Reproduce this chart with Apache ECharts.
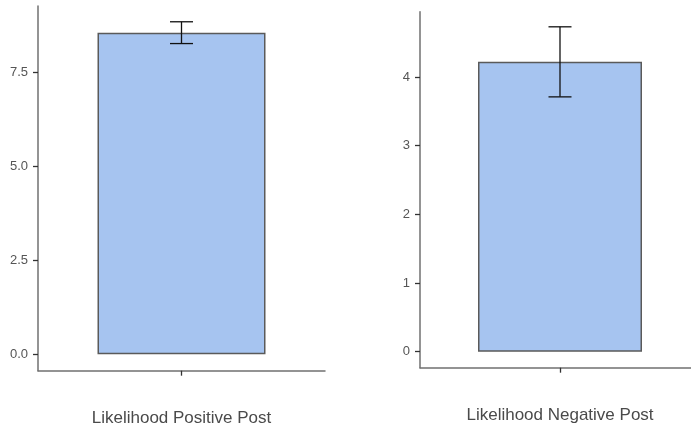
<!DOCTYPE html>
<html>
<head>
<meta charset="utf-8">
<script src="https://cdn.jsdelivr.net/npm/echarts@6/dist/echarts.min.js"></script>
<style>html,body{margin:0;padding:0;background:#fff;}#c{width:691px;height:436px;}</style>
</head>
<body>
<div id="c"></div>
<script>
var categoriesLeft = ['Likelihood Positive Post'];
var categoriesRight = ['Likelihood Negative Post'];
var meanLeft = [8.56];
var errLeft = [0.29];
var meanRight = [4.22];
var errRight = [0.51];
var ticksLeft = [0, 2.5, 5, 7.5];
var ticksRight = [0, 1, 2, 3, 4];

var chart = echarts.init(document.getElementById('c'), null, {renderer: 'canvas'});

function barData(means) {
  return means.map(function (m, i) { return [i, m]; });
}
function errData(means, errs) {
  return means.map(function (m, i) { return [i, m - errs[i], m + errs[i]]; });
}
function errRender(params, api) {
  var x = api.value(0);
  var lo = api.coord([x, api.value(1)]);
  var hi = api.coord([x, api.value(2)]);
  var hw = 11.5;
  var st = {stroke: '#111', lineWidth: 1.3};
  return {
    type: 'group',
    children: [
      {type: 'line', shape: {x1: hi[0], y1: hi[1], x2: lo[0], y2: lo[1]}, style: st},
      {type: 'line', shape: {x1: hi[0] - hw, y1: hi[1], x2: hi[0] + hw, y2: hi[1]}, style: st},
      {type: 'line', shape: {x1: lo[0] - hw, y1: lo[1], x2: lo[0] + hw, y2: lo[1]}, style: st}
    ]
  };
}

var axisLineStyle = {color: '#707070', width: 1.5};
var tickStyle = {color: '#333', width: 1.3};
var yLabel = {color: '#555', fontSize: 13, margin: 10, fontFamily: 'Liberation Sans, Arial, sans-serif'};

function xAxisFor(gi, cats) {
  var idx = cats.map(function (c, i) { return i; });
  return {
    type: 'value', gridIndex: gi, min: -1, max: 1,
    splitLine: {show: false},
    axisLine: {show: true, onZero: false, lineStyle: axisLineStyle},
    axisTick: {show: true, length: 5, customValues: idx, lineStyle: tickStyle},
    axisLabel: {
      customValues: idx,
      formatter: function (v) { return cats[Math.round(v)] || ''; },
      color: '#4a4a4a', fontSize: 17, margin: 39,
      fontFamily: 'Liberation Sans, Arial, sans-serif'
    }
  };
}

chart.setOption({
  animation: false,
  grid: [
    {left: 38, top: 6, width: 287, height: 364.7, outerBoundsMode: 'none', containLabel: false},
    {left: 420, top: 11.7, width: 280, height: 356, outerBoundsMode: 'none', containLabel: false}
  ],
  xAxis: [xAxisFor(0, categoriesLeft), xAxisFor(1, categoriesRight)],
  yAxis: [
    {type: 'value', gridIndex: 0, min: -0.44, max: 9.27,
     splitLine: {show: false},
     axisLine: {show: true, onZero: false, lineStyle: axisLineStyle},
     axisTick: {show: true, length: 5, customValues: ticksLeft, lineStyle: tickStyle},
     axisLabel: Object.assign({customValues: ticksLeft, formatter: function (v) { return v.toFixed(1); }}, yLabel)},
    {type: 'value', gridIndex: 1, min: -0.233, max: 4.95,
     splitLine: {show: false},
     axisLine: {show: true, onZero: false, lineStyle: axisLineStyle},
     axisTick: {show: true, length: 5, customValues: ticksRight, lineStyle: tickStyle},
     axisLabel: Object.assign({customValues: ticksRight, formatter: function (v) { return String(v); }}, yLabel)}
  ],
  series: [
    {type: 'bar', xAxisIndex: 0, yAxisIndex: 0, data: barData(meanLeft), barWidth: 168,
     itemStyle: {color: '#a6c4f0', borderColor: '#5a5a5a', borderWidth: 1.5}},
    {type: 'custom', xAxisIndex: 0, yAxisIndex: 0, data: errData(meanLeft, errLeft),
     renderItem: errRender, z: 5},
    {type: 'bar', xAxisIndex: 1, yAxisIndex: 1, data: barData(meanRight), barWidth: 164,
     itemStyle: {color: '#a6c4f0', borderColor: '#5a5a5a', borderWidth: 1.5}},
    {type: 'custom', xAxisIndex: 1, yAxisIndex: 1, data: errData(meanRight, errRight),
     renderItem: errRender, z: 5}
  ]
});
</script>
</body>
</html>
